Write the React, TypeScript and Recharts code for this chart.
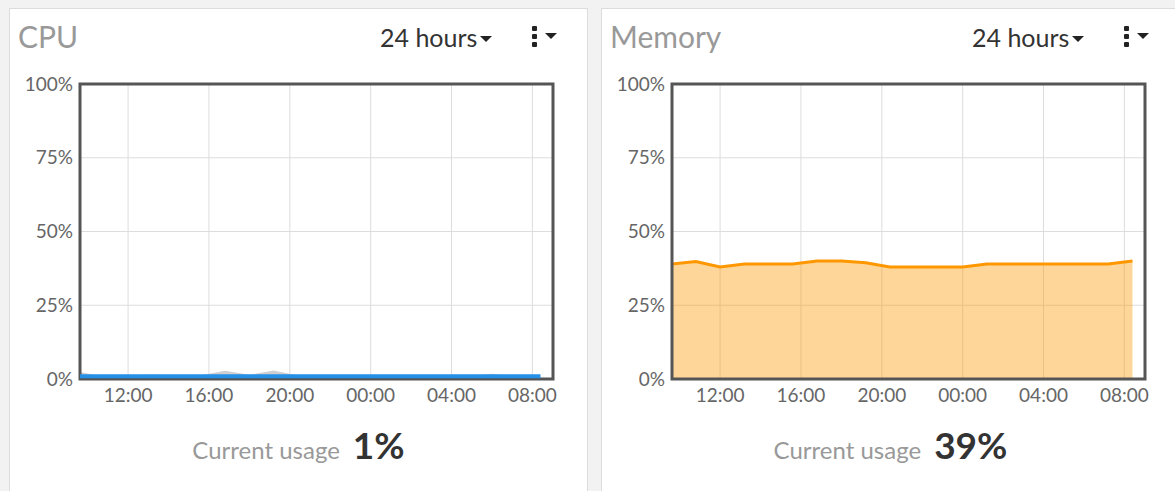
import React from 'react';
import {
  ComposedChart,
  Area,
  Line,
  XAxis,
  YAxis,
  CartesianGrid,
  ReferenceArea,
} from 'recharts';

// hours since midnight of the first day (24 = 00:00 next day)
const times = [9.62, 10.8, 12.0, 13.2, 14.4, 15.6, 16.8, 18.0, 19.2, 20.4, 21.6, 22.8, 24.0, 25.2, 26.4, 27.6, 28.8, 30.0, 31.2, 32.4];
const cpuPeak = [2.4, 0.8, 1.2, 1.4, 1.3, 1.3, 2.8, 1.4, 2.9, 1.2, 0.5, 0.4, 0.4, 0.4, 0.4, 0.6, 0.9, 1.8, 0.9, 0.6];
const cpuUsage = [0.9, 0.9, 0.9, 0.9, 0.9, 0.9, 0.9, 0.9, 0.9, 0.9, 0.9, 0.9, 0.9, 0.9, 0.9, 0.9, 0.9, 0.9, 0.9, 0.9];
const memUsage = [39, 39.8, 38, 39, 39, 39, 40, 40, 39.4, 38, 38, 38, 38, 39, 39, 39, 39, 39, 39, 40];

const xTicks = [12, 16, 20, 24, 28, 32];
const xTickLabels = ['12:00', '16:00', '20:00', '00:00', '04:00', '08:00'];
const yTicks = [0, 25, 50, 75, 100];
const xDomain: [number, number] = [9.62, 33.02];

const cpuData = times.map((t, i) => ({ t, peak: cpuPeak[i], usage: cpuUsage[i] }));
const memData = times.map((t, i) => ({ t, used: memUsage[i] }));

const FONT = 'Lato, "Open Sans", sans-serif';
const tickStyle = { fontSize: 19, fill: '#666', fontFamily: FONT };

function fmtX(v: number) {
  const i = xTicks.indexOf(v);
  return i >= 0 ? xTickLabels[i] : '';
}

function Caret() {
  return (
    <span
      style={{
        display: 'inline-block',
        width: 0,
        height: 0,
        borderLeft: '6px solid transparent',
        borderRight: '6px solid transparent',
        borderTop: '6px solid #222',
        marginLeft: 3,
        verticalAlign: 'middle',
        position: 'relative',
        top: -2,
      }}
    />
  );
}

function Panel({ left, title, current, children }: { left: number; title: string; current: string; children: React.ReactNode }) {
  return (
    <div
      style={{
        position: 'absolute',
        left,
        top: 8,
        width: 577,
        height: 520,
        background: '#fff',
        border: '1px solid #dcdcdc',
        fontFamily: FONT,
      }}
    >
      <div style={{ position: 'absolute', left: 8, top: 9, fontSize: 30, color: '#999', lineHeight: '36px' }}>{title}</div>
      <div style={{ position: 'absolute', left: 370, top: 13, fontSize: 25, color: '#333', lineHeight: '30px' }}>
        24 hours
        <Caret />
      </div>
      <div style={{ position: 'absolute', left: 522, top: 17 }}>
        {[0, 8, 16].map((y) => (
          <div key={y} style={{ position: 'absolute', left: 0, top: y, width: 5, height: 5, background: '#222', borderRadius: 1 }} />
        ))}
        <div style={{ position: 'absolute', left: 10, top: 0, lineHeight: '20px' }}>
          <Caret />
        </div>
      </div>
      {children}
      <div
        style={{
          position: 'absolute',
          left: 0,
          width: 577,
          top: 413,
          display: 'flex',
          justifyContent: 'center',
          alignItems: 'baseline',
        }}
      >
        <span style={{ fontSize: 24, color: '#999' }}>Current usage</span>
        <span style={{ fontSize: 37, color: '#333', fontWeight: 700, marginLeft: 13 }}>{current}</span>
      </div>
    </div>
  );
}

function Chart({ data, children }: { data: any[]; children: React.ReactNode }) {
  return (
    <div style={{ position: 'absolute', left: 0, top: 62 }}>
      <ComposedChart width={555} height={343} data={data} margin={{ top: 13, right: 12, bottom: 5, left: 0 }}>
        <CartesianGrid stroke="#dddddd" strokeWidth={1} />
        <XAxis
          dataKey="t"
          type="number"
          domain={xDomain}
          ticks={xTicks}
          tickFormatter={fmtX}
          axisLine={false}
          tickLine={false}
          tickSize={4}
          tickMargin={6}
          tick={tickStyle}
          height={30}
          allowDataOverflow
        />
        <YAxis
          domain={[0, 100]}
          ticks={yTicks}
          tickFormatter={(v: number) => `${v}%`}
          axisLine={false}
          tickLine={false}
          tickSize={2}
          tickMargin={5}
          tick={tickStyle}
          width={70}
        />
        {children}
        <ReferenceArea
          x1={xDomain[0]}
          x2={xDomain[1]}
          y1={0}
          y2={100}
          fill="none"
          stroke="#555"
          strokeWidth={3}
          ifOverflow="visible"
        />
      </ComposedChart>
    </div>
  );
}

export default function App() {
  return (
    <div style={{ position: 'absolute', left: 0, top: 0, width: 1175, height: 491, background: '#f2f2f2', overflow: 'hidden' }}>
      <Panel left={9} title="CPU" current="1%">
        <Chart data={cpuData}>
          <Area type="linear" dataKey="peak" stroke="none" fill="#cfcfcf" fillOpacity={1} isAnimationActive={false} />
          <Line type="linear" dataKey="usage" stroke="#2490e8" strokeWidth={4} dot={false} isAnimationActive={false} />
        </Chart>
      </Panel>
      <Panel left={601} title="Memory" current="39%">
        <Chart data={memData}>
          <Area
            type="linear"
            dataKey="used"
            stroke="#ff9800"
            strokeWidth={3}
            fill="#ff9800"
            fillOpacity={0.4}
            isAnimationActive={false}
          />
        </Chart>
      </Panel>
    </div>
  );
}
